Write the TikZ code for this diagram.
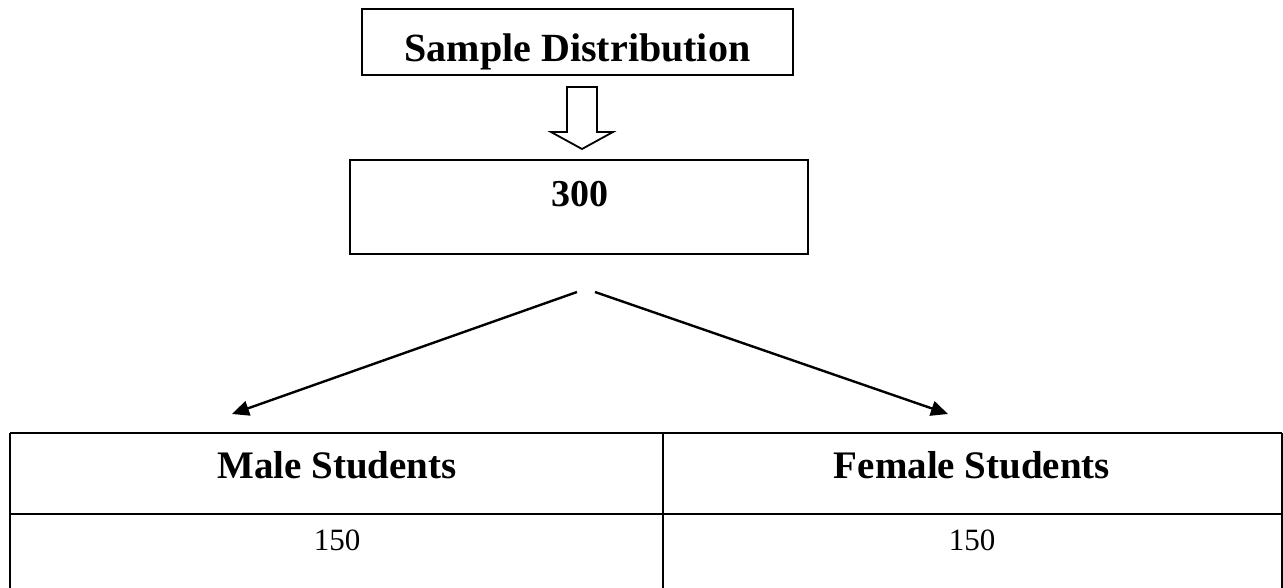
\documentclass[tikz,border=0pt]{standalone}
\usepackage{fontspec}
\setmainfont{Liberation Serif}
\usetikzlibrary{arrows.meta,calc}
\tikzset{
  box/.style={draw, line width=2.6pt, inner sep=0pt},
  lbl/.style={anchor=base, inner sep=0pt},
  conn/.style={line width=2.4pt, -{Triangle[length=17pt,width=15pt]}},
  rule/.style={line width=2.8pt},
}
\begin{document}
\begin{tikzpicture}[x=1pt,y=-1pt]
\useasboundingbox (0,0) rectangle (1283,588);
% top box
\node[box, minimum width=431pt, minimum height=66pt] (top) at (577.5,42) {};
\node[lbl, font=\fontsize{40}{44}\selectfont\bfseries] (toptxt) at (577.5,62) {Sample Distribution};
% total box
\node[box, minimum width=458pt, minimum height=94pt] (total) at (579,207) {};
\node[lbl, font=\fontsize{38}{42}\selectfont\bfseries] (totaltxt) at (580,207) {300};
% hollow arrow
\draw[line width=1.8pt, line join=miter]
  (567,87) -- (597,87) -- (597,132) -- (613,132) -- (582,149) -- (551,132) -- (567,132) -- cycle;
% split arrows
\coordinate (ls) at (577,292);
\coordinate (rs) at (595,292);
\coordinate (le) at (232,414);
\coordinate (re) at (948,414);
\draw[conn] (ls) -- (le);
\draw[conn] (rs) -- (re);
% table
\coordinate (tl) at (10,433);
\coordinate (tr) at (1282,433);
\coordinate (ml) at (10,514);
\coordinate (mr) at (1282,514);
\coordinate (cm) at (663,433);
\coordinate (bl) at (10,592);
\coordinate (br) at (1282,592);
\coordinate (bm) at (663,592);
\draw[rule] (tl) -- (tr);
\draw[rule] (ml) -- (mr);
\draw[rule] (tl) -- (bl);
\draw[rule] (tr) -- (br);
\draw[rule] (cm) -- (bm);
\node[lbl, font=\fontsize{39}{42}\selectfont\bfseries] (male) at (337,478) {Male Students};
\node[lbl, font=\fontsize{39}{42}\selectfont\bfseries] (female) at (972,478) {Female Students};
\node[lbl, font=\fontsize{31}{34}\selectfont] (mn) at (337,550) {150};
\node[lbl, font=\fontsize{31}{34}\selectfont] (fn) at (972,550) {150};
\end{tikzpicture}
\end{document}
